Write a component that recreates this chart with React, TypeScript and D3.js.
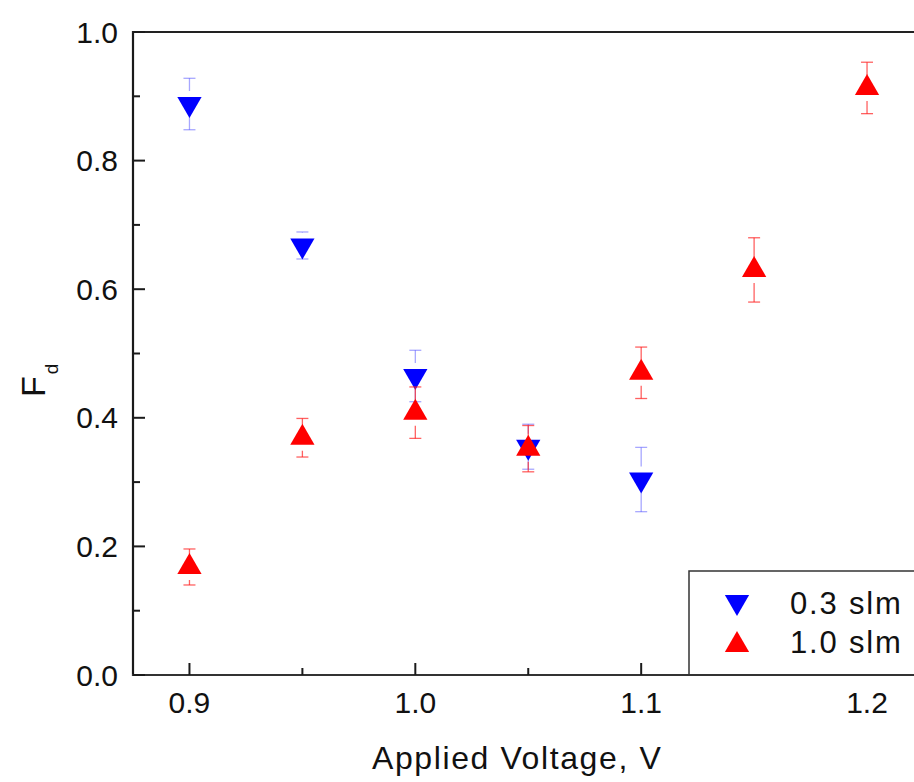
import React, { useRef, useEffect } from "react";
import * as d3 from "d3";

// Fd vs applied voltage, two gas flow rates
const voltages03 = [0.9, 0.95, 1.0, 1.05, 1.1];
const fd03 = [0.888, 0.668, 0.465, 0.355, 0.304];
const err03 = [0.04, 0.021, 0.04, 0.035, 0.05];

const voltages10 = [0.9, 0.95, 1.0, 1.05, 1.1, 1.15, 1.2];
const fd10 = [0.168, 0.369, 0.408, 0.352, 0.47, 0.63, 0.913];
const err10 = [0.028, 0.03, 0.04, 0.036, 0.04, 0.05, 0.04];

const xMajor = [0.9, 1.0, 1.1, 1.2];
const xMinor = [0.95, 1.05, 1.15];
const yMajor = [0, 0.2, 0.4, 0.6, 0.8, 1.0];
const yMinor = [0.1, 0.3, 0.5, 0.7, 0.9];

const legendLabels = ["0.3 slm", "1.0 slm"];

const FONT = "'Liberation Sans', Arial, sans-serif";

const App = () => {
  const ref = useRef<SVGSVGElement>(null);

  useEffect(() => {
    const svg = d3.select(ref.current);
    svg.selectAll("*").remove();

    const left = 133;
    const top = 32;
    const bottom = 675;

    const x = d3.scaleLinear().domain([0.875, 1.225]).range([left, 923.5]);
    const y = d3.scaleLinear().domain([0, 1]).range([bottom, top]);

    const tri = d3.symbol().type(d3.symbolTriangle).size(255);

    const series = [
      { xs: voltages03, ys: fd03, es: err03, fill: "#0000ff", err: "rgba(60,60,255,0.45)", rot: 180 },
      { xs: voltages10, ys: fd10, es: err10, fill: "#ff0000", err: "rgba(255,30,30,0.7)", rot: 0 },
    ];

    const g = svg.append("g");

    series.forEach((s) => {
      const pts = s.xs.map((v, i) => ({ x: v, y: s.ys[i], e: s.es[i] }));
      const eb = g.append("g").attr("stroke", s.err).attr("stroke-width", 1.3);
      pts.forEach((p) => {
        const cx = x(p.x);
        const cy = y(p.y);
        const yt = y(p.y + p.e);
        const yb = y(p.y - p.e);
        if (cy - 13 > yt) eb.append("line").attr("x1", cx).attr("x2", cx).attr("y1", yt).attr("y2", cy - 13);
        if (cy + 13 < yb) eb.append("line").attr("x1", cx).attr("x2", cx).attr("y1", cy + 13).attr("y2", yb);
        eb.append("line").attr("x1", cx - 6).attr("x2", cx + 6).attr("y1", yt).attr("y2", yt);
        eb.append("line").attr("x1", cx - 6).attr("x2", cx + 6).attr("y1", yb).attr("y2", yb);
      });
      g.append("g")
        .selectAll("path")
        .data(pts)
        .enter()
        .append("path")
        .attr("d", tri)
        .attr("transform", (d) => `translate(${x(d.x)},${y(d.y)}) rotate(${s.rot})`)
        .attr("fill", s.fill);
    });

    // frame / axes
    const axisColor = "#1a1a1a";
    svg.append("line").attr("x1", left).attr("x2", left).attr("y1", top - 1).attr("y2", bottom + 1)
      .attr("stroke", axisColor).attr("stroke-width", 2.2);
    svg.append("line").attr("x1", left - 1).attr("x2", 914).attr("y1", bottom).attr("y2", bottom)
      .attr("stroke", "#333").attr("stroke-width", 2.2);
    svg.append("line").attr("x1", left - 1).attr("x2", 914).attr("y1", top).attr("y2", top)
      .attr("stroke", "#222").attr("stroke-width", 2.2);

    // ticks (inward)
    const tk = svg.append("g").attr("stroke", axisColor).attr("stroke-width", 2);
    xMajor.forEach((v) => tk.append("line").attr("x1", x(v)).attr("x2", x(v)).attr("y1", bottom).attr("y2", bottom - 12));
    xMinor.forEach((v) => tk.append("line").attr("x1", x(v)).attr("x2", x(v)).attr("y1", bottom).attr("y2", bottom - 7));
    yMajor.forEach((v) => tk.append("line").attr("x1", left).attr("x2", left + 12).attr("y1", y(v)).attr("y2", y(v)));
    yMinor.forEach((v) => tk.append("line").attr("x1", left).attr("x2", left + 7).attr("y1", y(v)).attr("y2", y(v)));

    // tick labels
    const lab = svg.append("g").style("font-family", FONT).style("font-size", "30px").attr("fill", "#111");
    xMajor.forEach((v) =>
      lab.append("text").attr("x", x(v)).attr("y", 713).attr("text-anchor", "middle").text(d3.format(".1f")(v))
    );
    yMajor.forEach((v) =>
      lab.append("text").attr("x", 118).attr("y", y(v) + 10.5).attr("text-anchor", "end").text(d3.format(".1f")(v))
    );

    // axis titles
    svg.append("text")
      .attr("x", 372)
      .attr("y", 769)
      .style("font-family", FONT)
      .style("font-size", "32px")
      .style("letter-spacing", "1.6px")
      .attr("fill", "#111")
      .text("Applied Voltage, V");

    const yt = svg.append("text")
      .attr("transform", "translate(45,397) rotate(-90)")
      .style("font-family", FONT)
      .attr("fill", "#111");
    yt.append("tspan").style("font-size", "34px").text("F");
    yt.append("tspan").style("font-size", "19px").attr("dy", 13).attr("dx", 2).text("d");

    // legend
    const lg = svg.append("g");
    lg.append("rect").attr("x", 689).attr("y", 571).attr("width", 300).attr("height", bottom - 571)
      .attr("fill", "white").attr("stroke", "#333").attr("stroke-width", 1.5);
    const legendRows = [
      { fill: "#0000ff", rot: 180, cy: 602, base: 614 },
      { fill: "#ff0000", rot: 0, cy: 645, base: 653 },
    ];
    legendRows.forEach((r, i) => {
      lg.append("path").attr("d", tri).attr("transform", `translate(737,${r.cy}) rotate(${r.rot})`).attr("fill", r.fill);
      lg.append("text").attr("x", 790).attr("y", r.base)
        .style("font-family", FONT).style("font-size", "31px").style("letter-spacing", "1.8px")
        .attr("fill", "#111").text(legendLabels[i]);
    });
    // redraw bottom axis over legend border
    svg.append("line").attr("x1", 689).attr("x2", 914).attr("y1", bottom).attr("y2", bottom)
      .attr("stroke", "#333").attr("stroke-width", 2.2);
  }, []);

  return (
    <svg
      ref={ref}
      width={914}
      height={782}
      style={{ position: "absolute", left: 0, top: 0, background: "white" }}
    />
  );
};

export default App;
